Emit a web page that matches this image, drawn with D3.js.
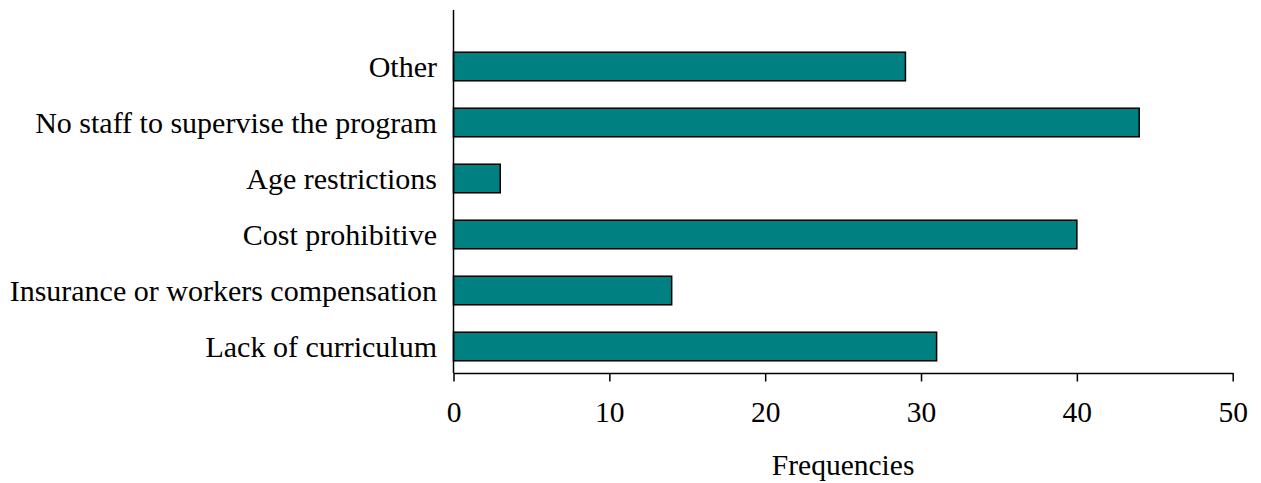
<!DOCTYPE html>
<html>
<head>
<meta charset="utf-8">
<script src="https://cdn.jsdelivr.net/npm/d3@7"></script>
<style>
  html, body { margin: 0; padding: 0; background: #fff; }
  svg text { font-family: "Liberation Serif", "Times New Roman", serif; fill: #000; }
</style>
</head>
<body>
<svg id="chart" width="1261" height="483"></svg>
<script>
// Reasons reported, listed from the top of the chart down
const categories = [
  "Other",
  "No staff to supervise the program",
  "Age restrictions",
  "Cost prohibitive",
  "Insurance or workers compensation",
  "Lack of curriculum"
];
const frequencies = [29, 44, 3, 40, 14, 31];
const xTicks = [0, 10, 20, 30, 40, 50];
const xTitle = "Frequencies";

const svg = d3.select("#chart");

const x0 = 453.5, x1 = 1232.7;
const yTop = 10, yAxis = 373;

const x = d3.scaleLinear().domain([0, 50]).range([x0, x1]);
const y = d3.scaleBand()
  .domain(categories)
  .range([38.5, 374.5])
  .paddingInner(0.49)
  .paddingOuter(0.245);

const data = categories.map((c, i) => ({ cat: c, val: frequencies[i] }));

// Bars
svg.append("g").selectAll("rect")
  .data(data)
  .join("rect")
  .attr("x", x(0))
  .attr("y", d => y(d.cat))
  .attr("width", d => x(d.val) - x(0))
  .attr("height", y.bandwidth())
  .attr("fill", "#008080")
  .attr("stroke", "#000")
  .attr("stroke-width", 1.5);

// Vertical axis line
svg.append("line")
  .attr("x1", x0).attr("x2", x0)
  .attr("y1", yTop).attr("y2", yAxis)
  .attr("stroke", "#000").attr("stroke-width", 1.5);

// Category labels
svg.append("g").selectAll("text")
  .data(categories)
  .join("text")
  .attr("x", 437)
  .attr("y", d => y(d) + y.bandwidth() / 2 + 10)
  .attr("text-anchor", "end")
  .attr("font-size", "30px")
  .text(d => d);

// Horizontal axis
const xAxis = d3.axisBottom(x)
  .tickValues(xTicks)
  .tickSize(8.5)
  .tickPadding(20)
  .tickSizeOuter(0);

const gx = svg.append("g")
  .attr("transform", `translate(0,${yAxis})`)
  .call(xAxis);
gx.select(".domain").attr("stroke", "#000").attr("stroke-width", 1.5);
gx.selectAll(".tick line").attr("stroke", "#000").attr("stroke-width", 1.5);
gx.selectAll(".tick text")
  .attr("font-size", "29.5px")
  .attr("font-family", "Liberation Serif, Times New Roman, serif")
  .attr("fill", "#000");

// Axis title
svg.append("text")
  .attr("x", (x0 + x1) / 2)
  .attr("y", 475)
  .attr("text-anchor", "middle")
  .attr("font-size", "29.5px")
  .text(xTitle);
</script>
</body>
</html>
